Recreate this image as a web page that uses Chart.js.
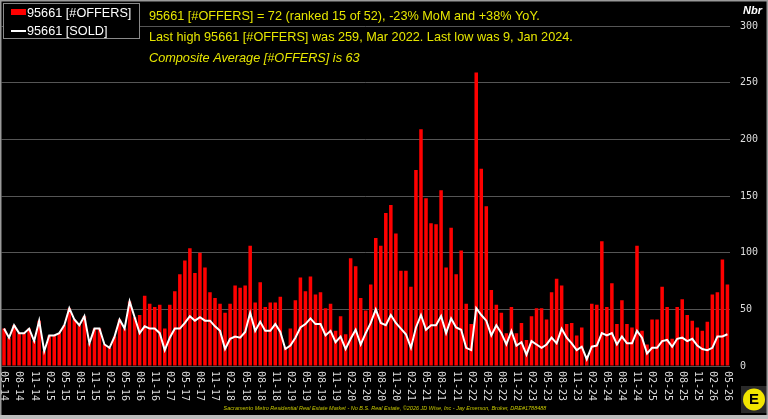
<!DOCTYPE html>
<html>
<head>
<meta charset="utf-8">
<script src="https://cdn.jsdelivr.net/npm/chart.js@4/dist/chart.umd.min.js"></script>
<style>
  html, body { margin: 0; padding: 0; background: #000; }
  #wrap { width: 768px; height: 419px; }
</style>
</head>
<body>
<div id="wrap"><canvas id="plot"></canvas></div>
<script>
// months 05-14 .. 05-26
var months = [];
for (let k = 0; k < 145; k++) {
    let m = (4 + k) % 12 + 1;
    let y = 14 + Math.floor((4 + k) / 12);
    months.push(String(m).padStart(2, "0") + "-" + String(y).padStart(2, "0"));
}

var offers = [
    33, 25, 36, 29, 29, 33, 22, 40, 13, 27, 27, 29, 36, 51, 41, 36, 44, 20, 33, 33,
    19, 16, 26, 41, 33, 57, 43, 45, 62, 55, 52, 54, 33, 54, 66, 81, 93, 104,
    82, 100, 87, 65, 60, 55, 47, 55, 71, 69, 71, 106, 56, 74, 52, 56, 56, 61, 17, 33,
    58, 78, 66, 79, 63, 65, 51, 55, 31, 44, 28, 95, 88, 60, 49, 72, 113,
    106, 135, 142, 117, 84, 84, 70, 173, 209, 148, 126, 125, 155, 87, 122, 81, 102, 55, 37, 259,
    174, 141, 67, 54, 47, 29, 52, 29, 38, 23, 44, 51, 51, 41, 65, 77,
    71, 37, 38, 27, 34, 9, 55, 54, 110, 52, 73, 37, 58, 37, 34, 106, 31, 19, 41, 41,
    70, 52, 24, 52, 59, 45, 40, 34, 31, 39, 63, 65, 94, 72
];

var sold = [
    33, 25, 36, 29, 29, 33, 22, 40, 13, 27, 27, 29, 36, 51, 41, 36, 44, 20, 33, 33,
    19, 16, 26, 41, 33, 57, 43, 29, 35, 33, 33, 29, 14, 25, 33, 33, 38, 44,
    40, 43, 40, 40, 35, 31, 15, 24, 26, 25, 30, 47, 31, 39, 31, 31, 37, 30, 15, 18,
    25, 34, 37, 42, 37, 37, 27, 31, 21, 26, 15, 24, 32, 19, 29, 38, 50,
    38, 36, 45, 38, 33, 28, 16, 34, 45, 32, 36, 36, 44, 29, 42, 34, 32, 16, 14, 51,
    45, 40, 27, 36, 29, 19, 31, 18, 21, 10, 22, 19, 16, 19, 25, 20,
    33, 25, 20, 14, 17, 6, 17, 18, 29, 27, 29, 19, 26, 20, 20, 31, 25, 11, 16, 16,
    22, 23, 17, 24, 25, 22, 24, 18, 15, 14, 16, 26, 26, 28
];

var legendLabels = ["95661 [#OFFERS]", "95661 [SOLD]"];
var infoLines = [
    "95661 [#OFFERS] = 72 (ranked 15 of 52), -23% MoM and +38% YoY.",
    "Last high 95661 [#OFFERS] was 259, Mar 2022. Last low was 9, Jan 2024.",
    "Composite Average [#OFFERS] is 63"
];
var footer = "Sacramento Metro Residential Real Estate Market - No B.S. Real Estate, \u00a92026 JD Wise, Inc - Jay Emerson, Broker, DRE#1788488";

var YELLOW = "#e6e600";

var decorPlugin = {
    id: "decor",
    beforeDraw: function (chart) {
        var c = chart.ctx;
        c.save();
        c.fillStyle = "#000";
        c.fillRect(0, 0, chart.width, chart.height);
        c.restore();
    },
    afterDraw: function (chart) {
        var c = chart.ctx;
        var xs = chart.scales.x;
        c.save();

        // x labels, every 3rd month, rotated clockwise
        c.fillStyle = "#dddddd";
        c.font = "10px 'DejaVu Sans Mono'";
        c.textAlign = "left";
        c.textBaseline = "middle";
        for (let i = 0; i < months.length; i += 3) {
            let px = xs.getPixelForValue(i);
            c.save();
            c.translate(px, 371);
            c.rotate(Math.PI / 2);
            c.fillText(months[i], 0, 0);
            c.restore();
        }

        // legend box
        c.fillStyle = "#000";
        c.fillRect(3, 3, 136, 35);
        c.strokeStyle = "#8a8a8a";
        c.lineWidth = 1;
        c.strokeRect(3.5, 3.5, 136, 35);
        c.fillStyle = "#ff0000";
        c.fillRect(11, 9, 15, 6);
        c.strokeStyle = "#fff";
        c.lineWidth = 2;
        c.beginPath();
        c.moveTo(11, 31);
        c.lineTo(26, 31);
        c.stroke();
        c.fillStyle = "#fff";
        c.font = "12.7px 'Liberation Sans'";
        c.textAlign = "left";
        c.textBaseline = "middle";
        c.fillText(legendLabels[0], 27, 13);
        c.fillText(legendLabels[1], 27, 31);

        // info text
        c.fillStyle = YELLOW;
        c.font = "12.7px 'Liberation Sans'";
        c.fillText(infoLines[0], 149, 16);
        c.fillText(infoLines[1], 149, 37);
        c.font = "italic 12.7px 'Liberation Sans'";
        c.fillText(infoLines[2], 149, 58);

        // unit label
        c.fillStyle = "#fff";
        c.font = "bold italic 11px 'Liberation Sans'";
        c.fillText("Nbr", 743, 11);

        // footer
        c.fillStyle = "#c8c800";
        c.font = "italic 5.5px 'Liberation Sans'";
        c.textAlign = "center";
        c.fillText(footer, 385, 408);

        // logo
        c.fillStyle = "#2a2a2a";
        c.fillRect(741, 386, 26, 27);
        c.beginPath();
        c.arc(754, 399.5, 11, 0, Math.PI * 2);
        c.fillStyle = "#f2e600";
        c.fill();
        c.fillStyle = "#000";
        c.font = "bold 15px 'Liberation Sans'";
        c.textAlign = "center";
        c.fillText("E", 754, 400);

        // frame
        c.strokeStyle = "#9a9a9a";
        c.lineWidth = 1.5;
        c.strokeRect(0.75, 0.75, chart.width - 1.5, chart.height - 1.5);
        c.fillStyle = "#bdbdbd";
        c.fillRect(0, 415, chart.width, 4);
        c.restore();
    }
};

function init_plot(container_name) {
    var ctx = document.getElementById(container_name).getContext("2d");
    const config = {
        type: "bar",
        data: {
            labels: months,
            datasets: [
                {
                    type: "line",
                    label: legendLabels[1],
                    data: sold,
                    borderColor: "#ffffff",
                    backgroundColor: "#ffffff",
                    borderWidth: 2,
                    pointRadius: 0,
                    tension: 0,
                    order: 0
                },
                {
                    type: "bar",
                    label: legendLabels[0],
                    data: offers,
                    backgroundColor: "#ff0000",
                    borderWidth: 0,
                    barPercentage: 0.7,
                    categoryPercentage: 1.0,
                    order: 1
                }
            ]
        },
        options: {
            animation: false,
            responsive: true,
            maintainAspectRatio: false,
            plugins: {
                legend: { display: false },
                tooltip: { enabled: false }
            },
            scales: {
                x: {
                    grid: { display: false },
                    border: { display: false },
                    ticks: { display: false }
                },
                y: {
                    position: "right",
                    min: 0,
                    max: 300,
                    ticks: {
                        stepSize: 50,
                        color: "#dddddd",
                        padding: 10,
                        font: { family: "DejaVu Sans Mono", size: 10 }
                    },
                    grid: { color: "#555555", drawTicks: false },
                    border: { display: false }
                }
            },
            layout: {
                padding: { left: 1.5, right: 0, top: 26, bottom: 45 }
            }
        },
        plugins: [decorPlugin]
    };
    return new Chart(ctx, config);
}

var plot = init_plot("plot");
</script>
</body>
</html>
